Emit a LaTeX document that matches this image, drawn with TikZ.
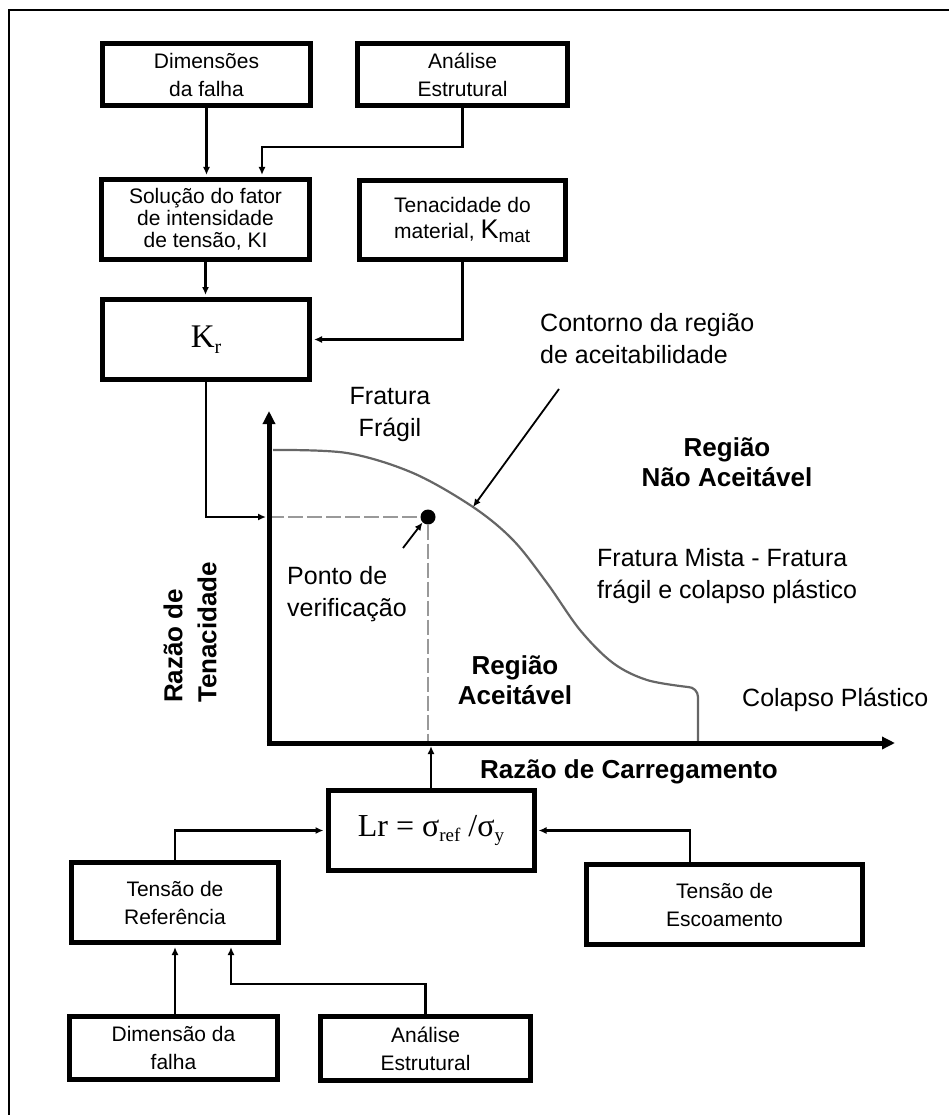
\documentclass[tikz,border=0pt]{standalone}
\usepackage{fontspec}
\setmainfont{Liberation Sans}
\newfontfamily\serifface{Liberation Serif}
\usetikzlibrary{arrows.meta,calc}
\begin{document}
\begin{tikzpicture}[x=1pt,y=-1pt,
  box/.style={draw, line width=5pt, inner sep=0pt, align=center,
              font=\fontsize{21}{28}\selectfont},
  conn/.style={line width=2.2pt, -{Latex[length=8pt,width=7pt]}, shorten >=2pt},
  pointer/.style={line width=1.8pt, -{Latex[length=8pt,width=7pt]}},
  lbl/.style={font=\fontsize{25}{32}\selectfont, inner sep=0pt, align=left},
  lblb/.style={font=\fontsize{26}{30}\selectfont\bfseries, inner sep=0pt, align=center},
  axis/.style={line width=5pt, -{Triangle[length=13pt,width=12pt]}},
  curve/.style={draw=black!60, line width=2.2pt},
  guide/.style={draw=black!40, line width=2.5pt, dash pattern=on 15pt off 4pt}]

\useasboundingbox (0,0) rectangle (949,1115);

% outer frame (open to the right and bottom)
\draw[line width=1.5pt] (9,1116) -- (9,10) -- (950,10);

% ---------- upper block: toughness ratio ----------
\node[box, minimum width=208pt, minimum height=62pt] (dimA) at (206.5,74.5) {Dimensões\\da falha};
\node[box, minimum width=210pt, minimum height=62pt] (anaA) at (462.5,74.5) {Análise\\Estrutural};
\node[box, minimum width=208pt, minimum height=80pt, font=\fontsize{21}{22}\selectfont]
  (sol) at (205.5,219.5) {Solução do fator\\de intensidade\\de tensão, KI};
\node[box, minimum width=206pt, minimum height=79pt, align=left, font=\fontsize{21}{26}\selectfont]
  (ten) at (462.5,220) {Tenacidade do\\material, {\fontsize{27}{27}\selectfont K}\raisebox{-4pt}{\fontsize{19}{19}\selectfont mat}};
\node[box, minimum width=207pt, minimum height=80pt, font=\serifface\fontsize{33}{33}\selectfont]
  (kr) at (206,339.5) {K\raisebox{-6pt}{\fontsize{20}{20}\selectfont r}};

\coordinate (j1) at (262,147);
\draw[conn] (dimA.south) -- (dimA.south |- sol.north);
\draw[conn] (anaA.south) |- (j1) -- (j1 |- sol.north);
\draw[conn] (sol.south) -- (sol.south |- kr.north);
\draw[conn] (ten.south) |- (kr.east);

% ---------- failure assessment diagram ----------
\coordinate (origin) at (269,743);
\coordinate (ytip) at (269,411);
\coordinate (xtip) at (895,743);
\coordinate (ybase) at (269,745.5);
\coordinate (xbase) at (266.5,743);

\node[circle, fill=black, minimum size=15pt, inner sep=0pt] (dot) at (428,517) {};
\draw[guide] (origin |- dot) -- (dot);
\draw[guide] (dot) -- (dot |- origin);

% acceptability contour
\draw[curve] plot[smooth, tension=0.55] coordinates
  {(273,450) (347,453) (413,473) (473,507) (513,540) (547,583) (580,630) (613,663) (647,680) (688,687)}
  to[out=0,in=90] (698,697) -- (698,741);

\draw[axis] (ybase) -- (ytip);
\draw[axis] (xbase) -- (xtip);

\coordinate (kin) at ($(origin |- dot)+(-3,0)$);
\draw[conn, shorten >=0pt] (kr.south) |- (kin);

\coordinate (ctail) at (559,389);
\coordinate (chead) at (473,507);
\draw[pointer] (ctail) -- (chead);
\coordinate (pvtail) at (403,548);
\draw[pointer] (pvtail) -- (dot.225);

\node[lbl, anchor=west] (contorno) at (540,339) {Contorno da região\\de aceitabilidade};
\node[lbl, align=center] (fragil) at (390,414) {Fratura\\Frágil};
\node[lblb] (naoac) at (727,462) {Região\\Não Aceitável};
\node[lbl, anchor=west] (mista) at (597,576) {Fratura Mista - Fratura\\frágil e colapso plástico};
\node[lbl, anchor=west] (colapso) at (742,700) {Colapso Plástico};
\node[lblb] (aceit) at (515,680) {Região\\Aceitável};
\node[lbl, anchor=west] (ponto) at (287,594) {Ponto de\\verificação};
\node[lblb, rotate=90, anchor=west, align=left, font=\fontsize{26}{34}\selectfont\bfseries]
  (yaxl) at (190,703) {Razão de\\Tenacidade};
\node[lblb] (xaxl) at (629,772) {Razão de Carregamento};

% ---------- lower block: load ratio ----------
\node[box, minimum width=206pt, minimum height=80pt, font=\serifface\fontsize{32}{32}\selectfont]
  (lr) at (431,830.5) {Lr = σ\raisebox{-5pt}{\fontsize{19}{19}\selectfont ref} /σ\raisebox{-5pt}{\fontsize{19}{19}\selectfont y}};
\node[box, minimum width=207pt, minimum height=80pt] (ref) at (175,902.5) {Tensão de\\Referência};
\node[box, minimum width=276pt, minimum height=80pt] (esc) at (724.5,904.5) {Tensão de\\Escoamento};
\node[box, minimum width=208pt, minimum height=63pt] (dimB) at (173.5,1048) {Dimensão da\\falha};
\node[box, minimum width=210pt, minimum height=64pt] (anaB) at (425.5,1048.5) {Análise\\Estrutural};

\draw[conn, shorten >=3pt] (lr.north) -- (lr.north |- origin);
\draw[conn] (ref.north) |- (lr.west);
\coordinate (escup) at ($(esc.north)+(-34.5,0)$);
\draw[conn] (escup) |- (lr.east);
\draw[conn] (ref.south |- dimB.north) -- (ref.south);
\coordinate (j2) at (231,984);
\draw[conn] (anaB.north) |- (j2) -- (j2 |- ref.south);

\end{tikzpicture}
\end{document}
